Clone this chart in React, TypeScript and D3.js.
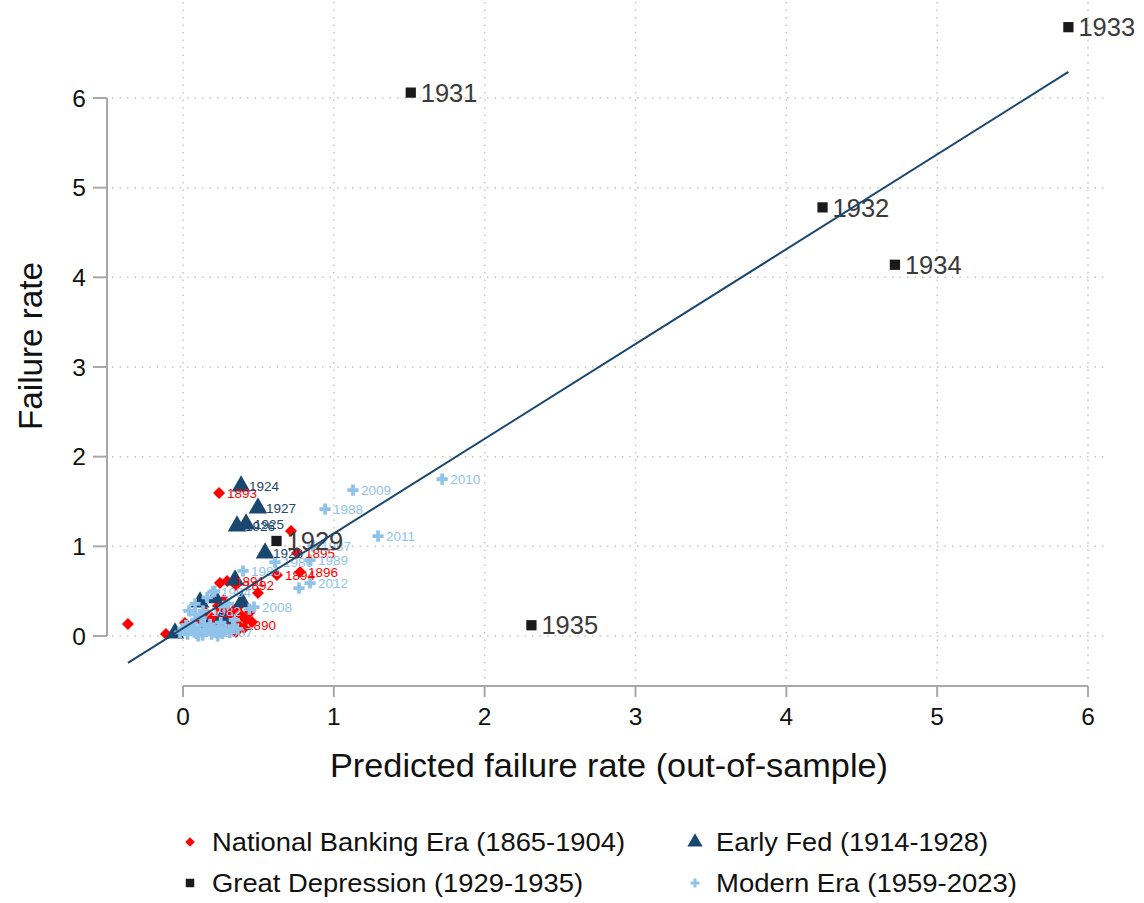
import React from "react";
import * as d3 from "d3";

// ---------- DATA ----------
const xTicks = [0, 1, 2, 3, 4, 5, 6];
const yTicks = [0, 1, 2, 3, 4, 5, 6];

// Great Depression (1929-1935)
const gdYears = ["1929", "1931", "1932", "1933", "1934", "1935"];
const gdX = [0.62, 1.51, 4.24, 5.87, 4.72, 2.31];
const gdY = [1.06, 6.06, 4.78, 6.79, 4.14, 0.12];

// Early Fed (1914-1928)
const efYears = ["1924", "1927", "1925", "1926", "1928", "", "", "", "", "", "", "", ""];
const efX = [0.385, 0.497, 0.418, 0.358, 0.544, 0.345, 0.212, 0.113, 0.391, -0.053, 0.146, 0.02, 0.26];
const efY = [1.672, 1.427, 1.249, 1.226, 0.925, 0.624, 0.424, 0.379, 0.379, 0.033, 0.123, 0.06, 0.2];

// National Banking Era (1865-1904)
const nbYears = [
  "1893", "", "1895", "1894", "1896", "1891", "1892", "", "", "", "", "",
  "1882", "", "", "", "", "", "", "1890", "", "", "", "", "", "", "", "", "", "", "", "",
];
const nbX = [
  0.239, 0.716, 0.756, 0.623, 0.776, 0.292, 0.351, -0.365, -0.113, 0.013, 0.245, 0.497,
  0.146, 0.192, 0.232, 0.259, 0.285, 0.312, 0.338, 0.365, 0.391, 0.418, 0.444, 0.298,
  0.212, 0.351, 0.113, 0.405, 0.458, 0.166, 0.272, 0.378,
];
const nbY = [
  1.594, 1.171, 0.925, 0.68, 0.713, 0.613, 0.569, 0.134, 0.022, 0.145, 0.591, 0.479,
  0.268, 0.201, 0.334, 0.156, 0.245, 0.178, 0.29, 0.123, 0.223, 0.178, 0.268, 0.089,
  0.111, 0.045, 0.178, 0.089, 0.156, 0.067, 0.401, 0.346,
];

// Modern Era (1959-2023)
const meYears = [
  "2010", "2009", "1988", "2011", "1987", "1989", "1986", "1985", "2012", "", "2008", "1984",
  "1982", "2007", "", "", "", "", "", "", "", "", "", "", "", "", "", "", "", "", "", "",
  "", "", "", "", "", "", "", "", "", "", "", "", "", "", "", "", "",
];
const meX = [
  1.718, 1.127, 0.942, 1.293, 0.862, 0.842, 0.61, 0.398, 0.842, 0.769, 0.471, 0.199,
  0.133, 0.212, 0.04, 0.08, 0.16, 0.21, 0.27, 0.3, -0.02, 0.0, 0.03, 0.05, 0.07, 0.09,
  0.11, 0.13, 0.15, 0.17, 0.19, 0.22, 0.24, 0.26, 0.28, 0.31, 0.33, 0.36, 0.02, 0.06,
  0.1, 0.14, 0.18, 0.23, 0.25, 0.12, 0.08, 0.34, 0.44,
];
const meY = [
  1.75, 1.628, 1.416, 1.115, 1.003, 0.847, 0.825, 0.725, 0.591, 0.535, 0.323, 0.491,
  0.279, 0.045, 0.279, 0.357, 0.43, 0.5, 0.33, 0.36, 0.04, 0.08, 0.02, 0.06, 0.1, 0.03,
  0.07, 0.01, 0.05, 0.09, 0.02, 0.06, 0.1, 0.03, 0.07, 0.04, 0.11, 0.08, 0.12, 0.14,
  0.0, 0.12, 0.13, 0.0, 0.15, 0.2, 0.24, 0.18, 0.3,
];

// Fitted line (OLS of failure rate on prediction)
const fitIntercept = 0.086;
const fitSlope = 1.057;

const legendLabels = [
  "National Banking Era (1865-1904)",
  "Early Fed (1914-1928)",
  "Great Depression (1929-1935)",
  "Modern Era (1959-2023)",
];

// ---------- STYLE ----------
const RED = "#ff0000";
const NAVY = "#1a476f";
const BLACK = "#1a1a1a";
const LTBLUE = "#90c3ea";
const FONT = "'Liberation Sans', Arial, Helvetica, sans-serif";

const x = d3.scaleLinear().domain([0, 6]).range([183, 1088]);
const y = d3.scaleLinear().domain([0, 6]).range([636, 98]);

const diamond = (s: number) => d3.symbol(d3.symbolSquare, s)() as string;
const tri = (s: number) => d3.symbol(d3.symbolTriangle, s)() as string;
const square = (s: number) => d3.symbol(d3.symbolSquare, s)() as string;
const cross = (s: number) => d3.symbol(d3.symbolCross, s)() as string;

type Series = {
  xs: number[];
  ys: number[];
  labels: string[];
  color: string;
  labelColor: string;
  path: string;
  rotate: number;
  fontSize: number;
  dx: number;
};

const seriesList: Series[] = [
  { xs: nbX, ys: nbY, labels: nbYears, color: RED, labelColor: RED, path: diamond(72), rotate: 45, fontSize: 13.5, dx: 8 },
  { xs: efX, ys: efY, labels: efYears, color: NAVY, labelColor: NAVY, path: tri(150), rotate: 0, fontSize: 13.5, dx: 8 },
  { xs: meX, ys: meY, labels: meYears, color: LTBLUE, labelColor: LTBLUE, path: cross(70), rotate: 0, fontSize: 13.5, dx: 8 },
  { xs: gdX, ys: gdY, labels: gdYears, color: BLACK, labelColor: "#3a3a3a", path: square(105), rotate: 0, fontSize: 25.5, dx: 10 },
];

export default function App() {
  const xMin = d3.min([...nbX, ...efX, ...gdX, ...meX]) as number;
  const xMax = d3.max([...nbX, ...efX, ...gdX, ...meX]) as number;
  const lineGen = d3
    .line<number>()
    .x((v) => x(v))
    .y((v) => y(fitIntercept + fitSlope * v));

  const legendItems = [
    { label: legendLabels[0], path: diamond(45), rotate: 45, color: RED, lx: 190, ly: 842, tx: 212, len: 413 },
    { label: legendLabels[1], path: tri(100), rotate: 0, color: NAVY, lx: 695, ly: 842, tx: 716, len: 272 },
    { label: legendLabels[2], path: square(72), rotate: 0, color: BLACK, lx: 190, ly: 883, tx: 212, len: 371 },
    { label: legendLabels[3], path: cross(45), rotate: 0, color: LTBLUE, lx: 695, ly: 883, tx: 716, len: 301 },
  ];

  return (
    <svg
      width={1144}
      height={903}
      style={{ position: "absolute", left: 0, top: 0, background: "#fff" }}
      fontFamily={FONT}
    >
      <rect width={1144} height={903} fill="#fff" />
      {/* grid */}
      {xTicks.map((t) => (
        <line key={"gx" + t} x1={x(t)} x2={x(t)} y1={2} y2={680} stroke="#c4c4c4" strokeWidth={1.5} strokeDasharray="1.5 6" />
      ))}
      {yTicks.map((t) => (
        <line key={"gy" + t} x1={112} x2={1106} y1={y(t)} y2={y(t)} stroke="#c4c4c4" strokeWidth={1.5} strokeDasharray="1.5 6" />
      ))}
      {/* y axis */}
      <line x1={107} x2={107} y1={y(0)} y2={y(6)} stroke="#a8a8a8" strokeWidth={2} />
      {yTicks.map((t) => (
        <g key={"yt" + t}>
          <line x1={93} x2={107} y1={y(t)} y2={y(t)} stroke="#a8a8a8" strokeWidth={2} />
          <text x={86} y={y(t)} dy="0.36em" textAnchor="end" fontSize={24.5} fill="#111">
            {t}
          </text>
        </g>
      ))}
      {/* x axis */}
      <line x1={x(0)} x2={x(6)} y1={686} y2={686} stroke="#a8a8a8" strokeWidth={2} />
      {xTicks.map((t) => (
        <g key={"xt" + t}>
          <line x1={x(t)} x2={x(t)} y1={686} y2={697} stroke="#a8a8a8" strokeWidth={2} />
          <text x={x(t)} y={716} dy="0.36em" textAnchor="middle" fontSize={24.5} fill="#111">
            {t}
          </text>
        </g>
      ))}
      {/* axis titles */}
      <text x={609} y={765} dy="0.36em" textAnchor="middle" fontSize={32.5} fill="#111" textLength={558} lengthAdjust="spacingAndGlyphs">
        Predicted failure rate (out-of-sample)
      </text>
      <text transform="translate(30,346) rotate(-90)" dy="0.36em" textAnchor="middle" fontSize={32.5} fill="#111" textLength={168} lengthAdjust="spacingAndGlyphs">
        Failure rate
      </text>
      {/* markers */}
      {seriesList.map((s, si) => (
        <g key={"s" + si}>
          {s.xs.map((v, i) => (
            <path
              key={i}
              d={s.path}
              fill={s.color}
              transform={`translate(${x(v)},${y(s.ys[i])}) rotate(${s.rotate})`}
            />
          ))}
        </g>
      ))}
      {/* labels */}
      {seriesList.map((s, si) => (
        <g key={"l" + si}>
          {s.xs.map((v, i) =>
            s.labels[i] ? (
              <text
                key={i}
                x={x(v) + s.dx}
                y={y(s.ys[i])}
                dy="0.36em"
                fontSize={s.fontSize}
                fill={s.labelColor}
              >
                {s.labels[i]}
              </text>
            ) : null
          )}
        </g>
      ))}
      {/* fit line */}
      <path d={lineGen([xMin, xMax]) as string} stroke={NAVY} strokeWidth={2} fill="none" />
      {/* legend */}
      {legendItems.map((it, i) => (
        <g key={"lg" + i}>
          <path d={it.path} fill={it.color} transform={`translate(${it.lx},${it.ly}) rotate(${it.rotate})`} />
          <text x={it.tx} y={it.ly} dy="0.36em" fontSize={25} fill="#111" textLength={it.len} lengthAdjust="spacingAndGlyphs">
            {it.label}
          </text>
        </g>
      ))}
    </svg>
  );
}
